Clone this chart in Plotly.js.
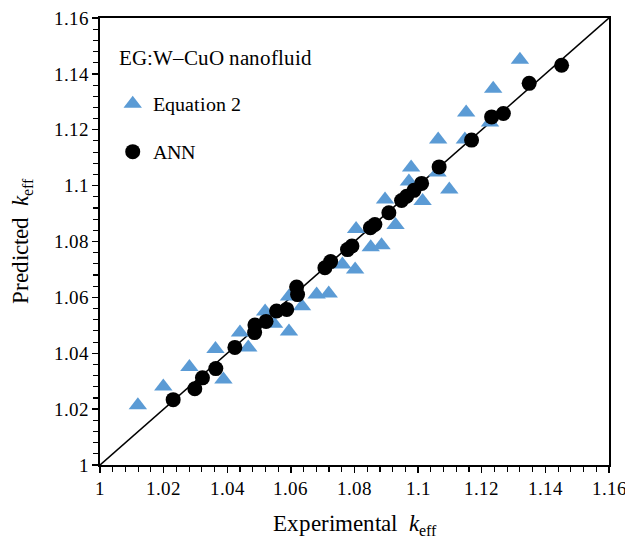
<!DOCTYPE html>
<html>
<head>
<meta charset="utf-8">
<script src="https://cdn.plot.ly/plotly-3.0.1.min.js"></script>
<style>
@font-face{font-family:'TNR';font-style:normal;font-weight:400;src:local('Liberation Serif'),local('LiberationSerif'),local('LiberationSerif-Regular');}
@font-face{font-family:'TNR';font-style:italic;font-weight:400;src:local('Liberation Serif Italic'),local('LiberationSerif-Italic');}
html,body{margin:0;padding:0;background:#fff;}#chart{width:625px;height:551px;}
</style>
</head>
<body>
<div id="chart"></div>
<script>
// Equation 2 (triangles): experimental vs predicted
const eqExp = [1.0119,1.0199,1.0281,1.0363,1.0388,1.0440,1.0466,1.0519,1.0547,1.0594,1.0594,1.0635,1.0681,1.0719,1.0762,1.0802,1.0805,1.0851,1.0885,1.0896,1.0929,1.0971,1.0978,1.1014,1.1061,1.1063,1.1098,1.1147,1.1151,1.1226,1.1236,1.1320];
const eqPred = [1.0214,1.0281,1.0351,1.0415,1.0306,1.0474,1.0421,1.0549,1.0506,1.0603,1.0478,1.0568,1.0610,1.0614,1.0718,1.0700,1.0845,1.0779,1.0787,1.0950,1.0859,1.1015,1.1065,1.0945,1.1047,1.1165,1.0986,1.1165,1.1262,1.1226,1.1347,1.1451];
// ANN (circles)
const annExp = [1.0230,1.0298,1.0322,1.0364,1.0424,1.0486,1.0487,1.0522,1.0555,1.0587,1.0618,1.0621,1.0707,1.0725,1.0778,1.0792,1.0850,1.0864,1.0908,1.0948,1.0964,1.0987,1.1011,1.1066,1.1168,1.1231,1.1268,1.1349,1.1451];
const annPred = [1.0234,1.0273,1.0312,1.0345,1.0421,1.0474,1.0501,1.0514,1.0551,1.0557,1.0637,1.0610,1.0706,1.0728,1.0771,1.0784,1.0849,1.0861,1.0903,1.0947,1.0962,1.0983,1.1008,1.1067,1.1163,1.1246,1.1258,1.1366,1.1431];
// y = x reference line
const lineXY = [1, 1.16];

const FF = 'TNR';

const traces = [
  {x: lineXY, y: lineXY, mode: 'lines', line: {color: '#000', width: 1.6}, showlegend: false, hoverinfo: 'skip'},
  {x: eqExp, y: eqPred, mode: 'markers', name: 'Equation 2', legendgroup: 'a',
   marker: {symbol: 'triangle-up', size: 16, color: '#5B9BD5'}},
  {x: annExp, y: annPred, mode: 'markers', name: 'ANN', legendgroup: 'b',
   marker: {symbol: 'circle', size: 15, color: '#000'}}
];

function axis(titleText, standoff) {
  return {
    range: [1, 1.16000001], dtick: 0.02, tick0: 1,
    showgrid: false, zeroline: false,
    showline: true, linecolor: '#000', linewidth: 1.6, mirror: true,
    ticks: 'outside', ticklen: 6, tickwidth: 1.3, tickcolor: '#000',
    ticklabeloverflow: 'allow',
    minor: {dtick: 0.004, ticks: 'outside', ticklen: 5, tickwidth: 1.1, tickcolor: '#000', showgrid: false},
    tickfont: {family: FF, size: 19, color: '#000'},
    title: {text: titleText, font: {family: FF, size: 23, color: '#000'}, standoff: standoff}
  };
}

const layout = {
  width: 625, height: 551,
  margin: {l: 100, r: 16, t: 18, b: 86},
  paper_bgcolor: '#fff', plot_bgcolor: '#fff',
  xaxis: axis('Experimental  <i>k</i><sub>eff</sub>', 16),
  yaxis: axis('Predicted  <i>k</i><sub>eff</sub>', 18),
  showlegend: true,
  legend: {
    x: 0.025, y: 0.852, xanchor: 'left', yanchor: 'top',
    font: {family: FF, size: 20, color: '#000'},
    bgcolor: 'rgba(0,0,0,0)', traceorder: 'grouped', tracegroupgap: 19,
    itemwidth: 30
  },
  annotations: [{
    xref: 'paper', yref: 'paper', x: 0.033, y: 0.91, xanchor: 'left', yanchor: 'middle',
    text: 'EG:W–CuO nanofluid', showarrow: false,
    font: {family: FF, size: 21, color: '#000'}
  }]
};

Plotly.newPlot('chart', traces, layout, {displayModeBar: false, staticPlot: true});
if (document.fonts && document.fonts.ready) {
  document.fonts.load('20px TNR').then(function(){ return document.fonts.load('italic 20px TNR'); })
    .then(function(){ Plotly.relayout('chart', {}); }).catch(function(){});
}
</script>
</body>
</html>
